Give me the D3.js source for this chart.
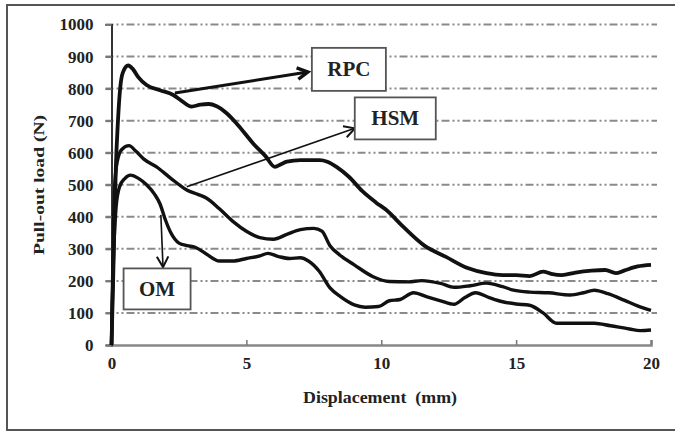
<!DOCTYPE html>
<html>
<head>
<meta charset="utf-8">
<script src="https://cdn.jsdelivr.net/npm/d3@7"></script>
<style>
  body { margin: 0; background: #fff; }
  svg { display: block; }
</style>
</head>
<body>
<svg id="chart" width="675" height="432"></svg>
<script>
// pull-out curves, displacement (mm) vs load (N)
var rpcX = [0, 0.06, 0.1, 0.16, 0.24, 0.32, 0.42, 0.62, 0.8, 1.0, 1.3, 1.8, 2.29, 2.6, 2.97, 3.3, 3.6, 3.9, 4.27, 4.7, 5.25, 5.7, 6.06, 6.3, 6.5, 7.0, 7.72, 8.0, 8.34, 8.8, 9.3, 9.8, 10.19, 10.8, 11.6, 12.4, 13.2, 13.9, 14.5, 15.0, 15.5, 16.0, 16.3, 16.7, 17.2, 17.8, 18.3, 18.7, 19.0, 19.5, 20];
var rpcY = [0, 200, 350, 550, 700, 800, 850, 872, 860, 835, 811, 795, 780, 762, 744, 750, 752, 745, 723, 685, 629, 590, 556, 565, 572, 577, 577, 572, 556, 525, 480, 445, 421, 370, 310, 275, 240, 224, 218, 218, 215, 229, 222, 218, 226, 232, 234, 224, 232, 245, 250];

var hsmX = [0, 0.05, 0.12, 0.22, 0.38, 0.65, 0.9, 1.2, 1.67, 2.2, 2.79, 3.2, 3.53, 4.0, 4.51, 5.0, 5.5, 6.0, 6.5, 7.0, 7.5, 7.8, 8.1, 8.46, 9.0, 9.7, 10.3, 11.0, 11.5, 12.2, 12.7, 13.3, 13.9, 14.5, 14.9, 15.5, 16.2, 17.0, 17.5, 17.9, 18.4, 19.0, 19.5, 20];
var hsmY = [0, 250, 500, 575, 610, 622, 605, 580, 556, 520, 484, 470, 458, 425, 385, 355, 335, 330, 345, 360, 364, 355, 310, 281, 250, 213, 198, 197, 201, 192, 180, 185, 193, 182, 171, 165, 163, 156, 163, 171, 160, 140, 122, 108];

var omX = [0, 0.05, 0.17, 0.3, 0.5, 0.7, 1.0, 1.3, 1.6, 1.8, 2.0, 2.2, 2.5, 2.8, 3.1, 3.5, 4.0, 4.5, 5.0, 5.5, 5.8, 6.2, 6.6, 7.0, 7.3, 7.7, 8.1, 8.5, 9.0, 9.4, 9.9, 10.3, 10.7, 11.2, 11.7, 12.2, 12.7, 13.1, 13.5, 14.0, 14.5, 15.0, 15.5, 16.0, 16.5, 17.2, 17.9, 18.5, 19.2, 19.6, 20];
var omY = [0, 200, 430, 494, 520, 530, 520, 500, 470, 440, 390, 350, 318, 310, 305, 285, 262, 262, 270, 278, 286, 276, 270, 272, 262, 230, 178, 150, 125, 118, 120, 138, 142, 163, 150, 138, 127, 148, 163, 148, 135, 128, 124, 100, 68, 68, 68, 60, 50, 45, 47];

var xTicks = [0, 5, 10, 15, 20];
var yTicks = [0, 100, 200, 300, 400, 500, 600, 700, 800, 900, 1000];

// callout boxes: label, box centre (data), arrow from / to (data)
var labels = ['RPC', 'HSM', 'OM'];
var boxAt = [[8.8, 860], [10.52, 707], [1.69, 175]];
var boxSize = [[74, 43], [81, 42], [67, 41]];
var arrowFrom = [[2.35, 786], [2.79, 494], [1.83, 406]];
var arrowTo = [[7.28, 852], [9.02, 676], [1.91, 243]];
var arrowWidth = [3, 1.6, 1.6];

var serif = "'Liberation Serif', 'Times New Roman', serif";

var svg = d3.select('#chart');
var x = d3.scaleLinear().domain([0, 20]).range([111.5, 651]);
var y = d3.scaleLinear().domain([0, 1000]).range([345, 24.5]);

// frame
svg.append('path')
  .attr('d', 'M675,5 H7 V430 H675')
  .attr('fill', 'none')
  .attr('stroke', '#555')
  .attr('stroke-width', 2);

// gridlines
svg.append('g')
  .selectAll('line')
  .data(yTicks.slice(1))
  .enter()
  .append('line')
  .attr('x1', x(0) - 6)
  .attr('x2', 657)
  .attr('y1', function(d) { return y(d); })
  .attr('y2', function(d) { return y(d); })
  .attr('stroke', '#8a8a8a')
  .attr('stroke-width', 2)
  .attr('stroke-dasharray', '8,3,2,3,2,3');

// axes
var xAxis = svg.append('g')
  .attr('transform', 'translate(0,' + y(0) + ')')
  .call(d3.axisBottom(x).tickValues(xTicks).tickSize(-5).tickPadding(12).tickFormat(d3.format('d')));
xAxis.select('.domain').attr('stroke', '#888').attr('stroke-width', 2.5);
xAxis.selectAll('.tick line').attr('stroke', '#777').attr('stroke-width', 1.5);
xAxis.selectAll('.tick text')
  .style('font-family', serif).style('font-weight', 'bold').style('font-size', '17px')
  .attr('fill', '#222');

var yAxis = svg.append('g')
  .attr('transform', 'translate(' + x(0) + ',0)')
  .call(d3.axisLeft(y).tickValues(yTicks).tickSize(6).tickPadding(12).tickFormat(d3.format('d')));
yAxis.select('.domain').attr('stroke', '#333').attr('stroke-width', 2);
yAxis.selectAll('.tick line').attr('stroke', '#777').attr('stroke-width', 2);
yAxis.selectAll('.tick text')
  .style('font-family', serif).style('font-weight', 'bold').style('font-size', '17px')
  .attr('fill', '#222');

// axis titles
svg.append('text')
  .attr('x', 380)
  .attr('y', 403)
  .attr('text-anchor', 'middle')
  .attr('fill', '#222')
  .attr('textLength', 154)
  .attr('lengthAdjust', 'spacingAndGlyphs')
  .style('font-family', serif).style('font-weight', 'bold').style('font-size', '17px')
  .style('white-space', 'pre')
  .text('Displacement  (mm)');

svg.append('text')
  .attr('transform', 'translate(44,185) rotate(-90)')
  .attr('text-anchor', 'middle')
  .attr('fill', '#222')
  .attr('textLength', 140)
  .attr('lengthAdjust', 'spacingAndGlyphs')
  .style('font-family', serif).style('font-weight', 'bold').style('font-size', '14px')
  .text('Pull-out load (N)');

// curves
var series = [[rpcX, rpcY, 3.8], [hsmX, hsmY, 3.4], [omX, omY, 3.4]];
var line = d3.line()
  .x(function(d) { return x(d[0]); })
  .y(function(d) { return y(d[1]); })
  .curve(d3.curveMonotoneX);

svg.append('g')
  .selectAll('path')
  .data(series)
  .enter()
  .append('path')
  .attr('d', function(s) { return line(s[0].map(function(v, i) { return [v, s[1][i]]; })); })
  .attr('fill', 'none')
  .attr('stroke', '#111')
  .attr('stroke-width', function(s) { return s[2]; })
  .attr('stroke-linejoin', 'round');

// callouts
var notes = svg.append('g');
labels.forEach(function(lab, i) {
  var x1 = x(arrowFrom[i][0]), y1 = y(arrowFrom[i][1]);
  var x2 = x(arrowTo[i][0]), y2 = y(arrowTo[i][1]);
  var ang = Math.atan2(y2 - y1, x2 - x1);
  var hl = 12, ha = 0.5;
  notes.append('line')
    .attr('x1', x1).attr('y1', y1).attr('x2', x2).attr('y2', y2)
    .attr('stroke', '#111').attr('stroke-width', arrowWidth[i]);
  notes.append('path')
    .attr('d', 'M' + (x2 - hl * Math.cos(ang - ha)) + ',' + (y2 - hl * Math.sin(ang - ha)) +
      'L' + x2 + ',' + y2 +
      'L' + (x2 - hl * Math.cos(ang + ha)) + ',' + (y2 - hl * Math.sin(ang + ha)))
    .attr('fill', 'none').attr('stroke', '#111').attr('stroke-width', arrowWidth[i] + 0.4);

  var cx = x(boxAt[i][0]), cy = y(boxAt[i][1]);
  var w = boxSize[i][0], h = boxSize[i][1];
  notes.append('rect')
    .attr('x', cx - w / 2).attr('y', cy - h / 2)
    .attr('width', w).attr('height', h)
    .attr('fill', '#fff').attr('stroke', '#555').attr('stroke-width', 1.8);
  notes.append('text')
    .attr('x', cx).attr('y', cy + 7)
    .attr('text-anchor', 'middle')
    .attr('fill', '#222')
    .style('font-family', serif).style('font-weight', 'bold').style('font-size', '21px')
    .text(lab);
});
</script>
</body>
</html>
